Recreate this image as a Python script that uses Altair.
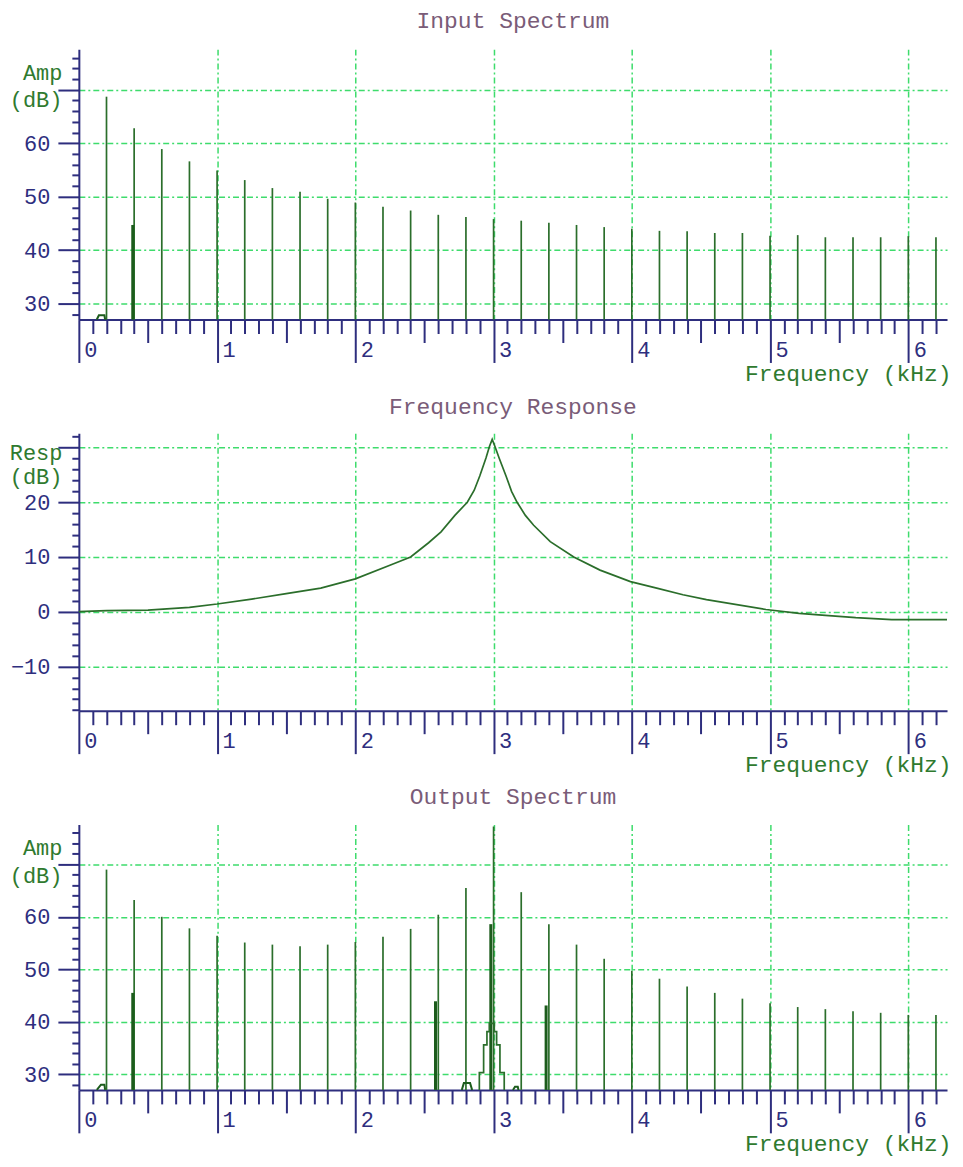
import altair as alt
import pandas as pd

# ---------------- data ----------------
harm_freq = [0.2, 0.4, 0.6, 0.8, 1.0, 1.2, 1.4, 1.6, 1.8, 2.0, 2.2, 2.4, 2.6, 2.8, 3.0, 3.2,
             3.4, 3.6, 3.8, 4.0, 4.2, 4.4, 4.6, 4.8, 5.0, 5.2, 5.4, 5.6, 5.8, 6.0, 6.2]
input_db = [68.7, 62.8, 58.9, 56.6, 54.9, 53.1, 51.6, 50.9, 49.6, 48.9, 48.1, 47.4, 46.6, 46.2,
            45.8, 45.5, 45.1, 44.7, 44.3, 44.0, 43.6, 43.5, 43.2, 43.2, 42.7, 42.8, 42.4, 42.4,
            42.4, 42.6, 42.4]
output_db = [69.0, 63.2, 60.0, 57.8, 56.4, 55.1, 54.7, 54.4, 54.7, 55.2, 56.2, 57.7, 60.4, 65.5,
             77.2, 64.7, 58.6, 54.7, 52.0, 49.7, 48.2, 46.7, 45.5, 44.4, 43.5, 42.8, 42.4, 42.0,
             41.7, 41.3, 41.3]

# heavier side components
in_side_freq = [0.39]
in_side_db = [44.7]
out_side_freq = [0.39, 2.58, 2.98, 3.38]
out_side_db = [45.5, 43.9, 58.6, 43.1]

# small low-level bumps
in_bump_freq = [0.13, 0.145, 0.185, 0.19]
in_bump_db = [27.0, 27.8, 27.8, 27.0]
out_bump_grp = ["a", "a", "a", "a", "b", "b", "b", "b", "c", "c", "c", "c"]
out_bump_freq = [0.13, 0.16, 0.185, 0.19, 2.77, 2.785, 2.83, 2.845, 3.14, 3.155, 3.175, 3.18]
out_bump_db = [27.0, 28.0, 28.0, 27.0, 27.0, 28.3, 28.3, 27.0, 27.0, 27.6, 27.6, 27.0]

# stepped pyramid around 3 kHz in the output spectrum
pyr_freq = [2.897, 2.897, 2.928, 2.928, 2.952, 2.952, 2.969, 2.969, 3.005, 3.005, 3.022, 3.022,
            3.046, 3.046, 3.077, 3.077]
pyr_db = [27.0, 30.3, 30.3, 35.6, 35.6, 38.1, 38.1, 39.7, 39.7, 38.1, 38.1, 35.6, 35.6, 30.3,
          30.3, 27.0]

# frequency response curve
resp_freq = [0.0, 0.2, 0.5, 0.8, 1.0, 1.25, 1.5, 1.75, 2.0, 2.25, 2.4, 2.45, 2.53, 2.62, 2.72,
             2.81, 2.86, 2.9, 2.945, 2.97, 2.99, 3.01, 3.04, 3.09, 3.13, 3.17, 3.23, 3.29, 3.41,
             3.58, 3.77, 3.99, 4.18, 4.37, 4.54, 4.97, 5.21, 5.4, 5.62, 5.88, 6.28]
resp_db = [0.0, 0.2, 0.3, 0.8, 1.4, 2.3, 3.3, 4.3, 6.0, 8.5, 10.0, 11.0, 12.6, 14.6, 17.6,
           20.0, 22.2, 24.8, 28.1, 30.2, 31.5, 30.2, 28.1, 24.8, 22.0, 20.0, 17.6, 15.8, 12.8,
           10.0, 7.6, 5.5, 4.3, 3.1, 2.2, 0.4, -0.3, -0.67, -1.1, -1.45, -1.45]

x_tick_vals = [round(i / 10, 1) for i in range(0, 63)]
amp_tick_vals = list(range(28, 78, 2))
resp_tick_vals = list(range(-18, 34, 2))

# ---------------- style ----------------
FONT = "Liberation Mono"
FS = 22
TFS = 23
NAVY = "#2e2e7e"
GRID = "#3edc6c"
LINE = "#2b6e2b"
THICK = "#1c5c1c"
TXT_GREEN = "#2f7a2f"
TITLE_C = "#7a5c78"
W = 870
XMAX = 6.28
DASH = [6, 3, 2, 3]

IS_INT = "abs(datum.value - round(datum.value)) < 0.001"
IS_HALF = "abs(datum.value * 2 - round(datum.value * 2)) < 0.001"
IS_MAJ = "abs(datum.value % 10) < 0.001"


def x_axis(title_y):
    return alt.Axis(
        values=x_tick_vals, grid=True, gridColor=GRID, gridDash=DASH, gridWidth=1.5,
        gridOpacity={"condition": {"test": IS_INT + " && datum.value > 0", "value": 1}, "value": 0},
        domainColor=NAVY, domainWidth=2, tickColor=NAVY, tickWidth=2,
        tickSize={"condition": [{"test": IS_INT, "value": 43}, {"test": IS_HALF, "value": 23}],
                  "value": 14},
        format=".0f",
        labelOpacity={"condition": {"test": IS_INT, "value": 1}, "value": 0},
        labelAlign="left", labelBaseline="middle", labelOffset=5, labelPadding=-13,
        labelFont=FONT, labelFontSize=FS, labelColor=NAVY, labelOverlap=False, labelFlush=False,
        title="Frequency (kHz)", titleFont=FONT, titleFontSize=TFS, titleFontWeight="normal",
        titleColor=TXT_GREEN, titleAlign="right", titleBaseline="alphabetic", titleX=W + 4,
        titleY=title_y,
    )


def y_axis(vals, title, hide, title_y=30, line_h=28):
    return alt.Axis(
        values=vals, grid=True, gridColor=GRID, gridDash=DASH, gridWidth=1.5,
        gridOpacity={"condition": {"test": IS_MAJ, "value": 1}, "value": 0},
        domainColor=NAVY, domainWidth=2, tickColor=NAVY, tickWidth=2,
        tickSize={"condition": {"test": IS_MAJ, "value": 21}, "value": 7},
        labelOpacity={"condition": {"test": f"({IS_MAJ}) && datum.value != {hide}", "value": 1},
                      "value": 0},
        labelFont=FONT, labelFontSize=FS, labelColor=NAVY, labelPadding=8,
        labelOverlap=False, labelFlush=False, labelBaseline="middle",
        title=title, titleFont=FONT, titleFontSize=FS, titleFontWeight="normal",
        titleColor=TXT_GREEN, titleAngle=0, titleAlign="right", titleBaseline="alphabetic",
        titleX=-17, titleY=title_y, titleLineHeight=line_h,
    )


def ttl(text, offset):
    return alt.TitleParams(text, font=FONT, fontSize=TFS, fontWeight="normal", color=TITLE_C,
                           anchor="middle", baseline="alphabetic", offset=offset)


def xenc(title_y=61):
    return alt.X("f:Q", scale=alt.Scale(domain=[0, XMAX], nice=False, zero=False),
                 axis=x_axis(title_y))


def spectrum(db_vals, side_f, side_db, bump_df, title, height, toff, ty, extra=None):
    xe = xenc(ty)
    yenc = alt.Y("db:Q", scale=alt.Scale(domain=[27, 77.6], nice=False, zero=False),
                 axis=y_axis(amp_tick_vals, ["Amp", "(dB)"], 70))
    df = pd.DataFrame({"f": harm_freq, "db": db_vals})
    sdf = pd.DataFrame({"f": side_f, "db": side_db})
    rules = alt.Chart(df).mark_rule(color=LINE, strokeWidth=1.7).encode(
        x=xe, y=yenc, y2=alt.datum(27))
    side = alt.Chart(sdf).mark_rule(color=THICK, strokeWidth=3).encode(
        x=xe, y=yenc, y2=alt.datum(27))
    bump = alt.Chart(bump_df).mark_line(color=THICK, strokeWidth=2).encode(
        x=xe, y=yenc, detail="g:N", order="i:Q")
    layers = [rules, side, bump]
    if extra is not None:
        layers.append(alt.Chart(extra).mark_line(color=LINE, strokeWidth=1.7).encode(
            x=xe, y=yenc, order="i:Q"))
    return alt.layer(*layers).properties(width=W, height=height, title=ttl(title, toff))


in_bump = pd.DataFrame({"f": in_bump_freq, "db": in_bump_db, "g": ["a"] * 4, "i": range(4)})
out_bump = pd.DataFrame({"f": out_bump_freq, "db": out_bump_db, "g": out_bump_grp,
                         "i": range(len(out_bump_freq))})
pyr = pd.DataFrame({"f": pyr_freq, "db": pyr_db, "i": range(len(pyr_freq))})

p1 = spectrum(input_db, in_side_freq, in_side_db, in_bump, "Input Spectrum", 271, -4, 61)
p3 = spectrum(output_db, out_side_freq, out_side_db, out_bump, "Output Spectrum", 266, -5, 61,
              pyr)

resp = pd.DataFrame({"f": resp_freq, "db": resp_db})
yresp = alt.Y("db:Q", scale=alt.Scale(domain=[-18.1, 32.6], nice=False, zero=False),
              axis=y_axis(resp_tick_vals, ["Resp", "(dB)"], 30, title_y=26, line_h=24))
p2 = alt.Chart(resp).mark_line(color=LINE, strokeWidth=1.7).encode(
    x=xenc(61), y=yresp).properties(width=W, height=278,
                                    title=ttl("Frequency Response", -11))

chart = alt.vconcat(p1, p2, p3, spacing=114, bounds="flush").properties(
    padding={"left": 1, "top": 0, "right": 0, "bottom": 0}
).configure_view(stroke=None)

chart.save("out.html", embed_options={"renderer": "svg", "actions": False})
